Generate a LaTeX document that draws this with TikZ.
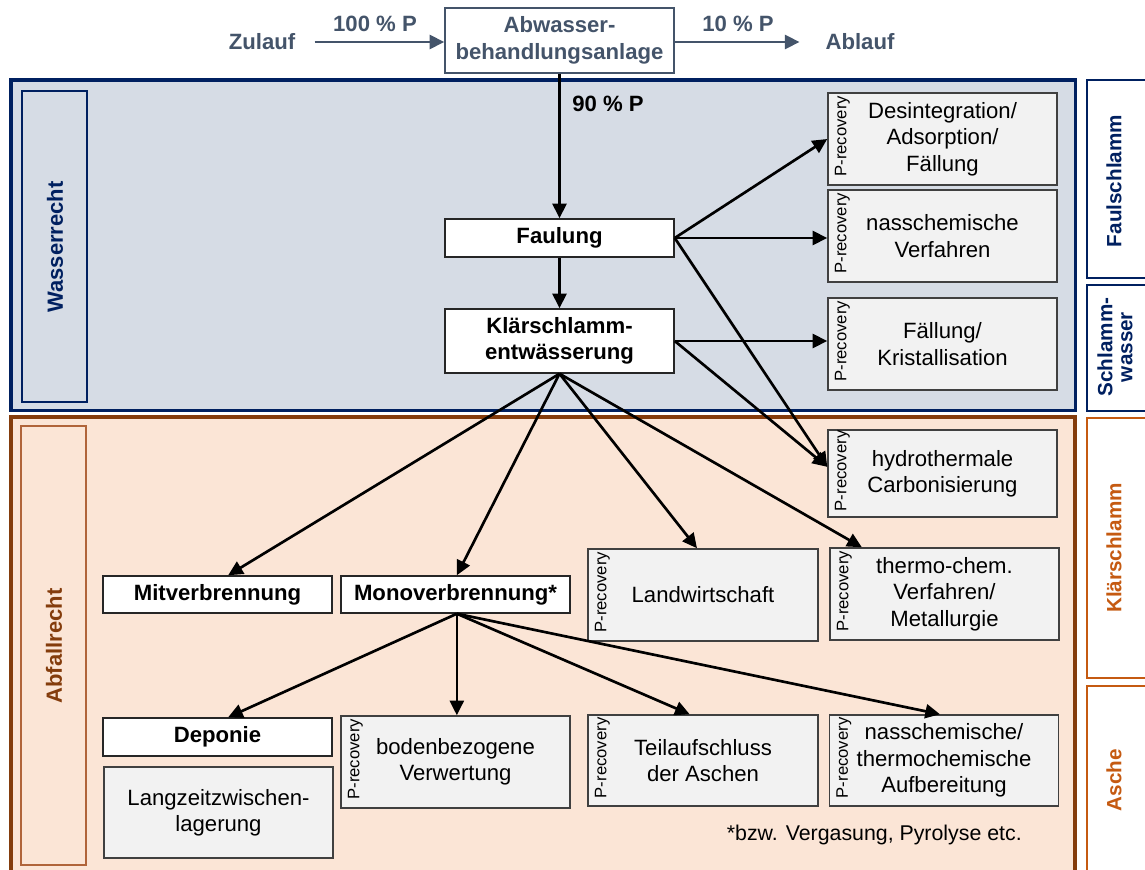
\documentclass[tikz,border=0pt]{standalone}
\usepackage{fontspec}
\setmainfont{Liberation Sans}
\usetikzlibrary{arrows.meta,calc}
\definecolor{navy}{HTML}{002060}
\definecolor{bluefill}{HTML}{D6DCE5}
\definecolor{orfill}{HTML}{FBE5D6}
\definecolor{brownb}{HTML}{843C0C}
\definecolor{brownl}{HTML}{B0643A}
\definecolor{orangeb}{HTML}{C55A11}
\definecolor{slate}{HTML}{44546A}
\definecolor{pgray}{HTML}{F2F2F2}
\newcommand{\plab}[1]{\node[plabel] at ([xshift=11.25pt,yshift=2pt]#1.west) {P-recovery};}
\begin{document}
\begin{tikzpicture}[x=0.75pt,y=-0.75pt,
 wbox/.style={draw=black!85, line width=1.1pt, fill=white, inner sep=0pt, font=\fontsize{16.6}{19.8}\selectfont\bfseries, align=center, minimum width=171.75pt},
 pbox/.style={draw=black!75, line width=1.1pt, fill=pgray, inner sep=0pt, font=\fontsize{16.6}{19.8}\selectfont, align=center, minimum width=171.75pt, minimum height=69pt},
 plabel/.style={rotate=90, font=\fontsize{12.5}{14}\selectfont, inner sep=0pt},
 arr/.style={draw=black, line width=2pt, -{Triangle[length=11pt,width=10.5pt]}},
 toparr/.style={draw=slate, line width=2pt, -{Triangle[length=11pt,width=10.5pt]}},
 toptext/.style={text=slate, font=\fontsize{16.6}{19.8}\selectfont\bfseries},
 sidelab/.style={rotate=90, font=\fontsize{15.5}{15}\selectfont\bfseries, align=center, inner sep=0pt},
 leftlab/.style={rotate=90, font=\fontsize{16.5}{18}\selectfont\bfseries, inner sep=0pt}
]
\useasboundingbox (0,0) rectangle (1145,870);
\clip (0,0) rectangle (1145,870);
\fill[white] (0,0) rectangle (1145,870);

% regions
\draw[navy, line width=2.6pt, fill=bluefill] (11,80) rectangle (1075.5,410.5);
\draw[brownb, line width=2.6pt, fill=orfill] (11,417) rectangle (1075,885);
\draw[navy, line width=0.9pt] (22,91) rectangle (87,402);
\draw[brownl, line width=1pt] (21,426) rectangle (86,865);
\node[leftlab, text=navy] (wr) at (55,247) {Wasserrecht};
\node[leftlab, text=brownb] (ar) at (54,646) {Abfallrecht};

% right side labels
\draw[navy, line width=1.1pt, fill=white] (1087,80) rectangle (1155,278);
\draw[navy, line width=1.1pt, fill=white] (1087,285) rectangle (1155,411);
\draw[orangeb, line width=1.1pt, fill=white] (1087,418) rectangle (1155,678);
\draw[orangeb, line width=1.1pt, fill=white] (1087,686) rectangle (1155,885);
\node[sidelab, text=navy] (fs) at (1114,181) {Faulschlamm};
\node[sidelab, text=navy] (sw) at (1115,347) {Schlamm-\\wasser};
\node[sidelab, text=orangeb] (ks) at (1114,548) {Klärschlamm};
\node[sidelab, text=orangeb] (as) at (1114,780) {Asche};

% top
\node[toptext] (zul) at (262,42) {Zulauf};
\node[draw=slate, line width=1.1pt, fill=white, toptext, align=center, minimum width=171.75pt, minimum height=48.75pt, inner sep=0pt] (abw) at (559.5,40.5) {Abwasser-\\behandlungsanlage};
\node[toptext] (abl) at (860,42) {Ablauf};
\draw[toparr, shorten <=11pt] (zul.east) -- (zul.east -| abw.west);
\draw[toparr, shorten >=16pt] (abw.east |- abl.west) -- (abl.west);
\node[toptext] (p100) at (375,24) {100 \% P};
\node[toptext] (p10) at (738,24) {10 \% P};

% main white boxes
\node[wbox, minimum height=28.5pt] (faul) at (559.5,238) {Faulung};
\node[wbox, minimum height=48pt] (klae) at (559.5,341) {Klärschlamm-\\entwässerung};
\node[wbox, minimum height=27.75pt] (mit) at (217.5,594.5) {Mitverbrennung};
\node[wbox, minimum height=27.75pt] (mono) at (455.5,594.5) {Monoverbrennung*};
\node[wbox, minimum height=28.5pt] (dep) at (217.5,737) {Deponie};
\node[font=\fontsize{16.6}{19.8}\selectfont\bfseries] (p90) at (608,104) {90 \% P};

% P-recovery boxes
\node[pbox] (des) at (942.5,139) {Desintegration/\\Adsorption/\\Fällung};
\node[pbox] (nas) at (942.5,236) {nasschemische\\Verfahren};
\node[pbox] (fae) at (942.5,344) {Fällung/\\Kristallisation};
\node[pbox, minimum height=65.25pt] (hyd) at (942.5,473.5) {hydrothermale\\Carbonisierung};
\node[pbox] (thc) at (944.5,594) {thermo-chem.\\Verfahren/\\Metallurgie};
\node[pbox, minimum width=172.5pt] (lw) at (703,595) {Landwirtschaft};
\node[pbox, minimum width=172.5pt, minimum height=68.25pt] (tei) at (703,760.5) {Teilaufschluss\\der Aschen};
\node[pbox, minimum height=68.25pt] (nth) at (944,760.5) {nasschemische/\\thermochemische\\Aufbereitung};
\node[pbox] (bod) at (455.5,762) {bodenbezogene\\Verwertung};
\node[pbox, minimum height=68.25pt] (lang) at (218.5,812.5) {Langzeitzwischen-\\lagerung};
\plab{des}\plab{nas}\plab{fae}\plab{hyd}\plab{thc}\plab{lw}\plab{tei}\plab{nth}\plab{bod}

\node[font=\fontsize{16}{18}\selectfont, anchor=east, inner sep=0pt] (fn) at (1022,835) {*bzw. Vergasung, Pyrolyse etc.};

% arrows
\draw[arr] (abw.south) -- (faul.north);
\draw[arr] (faul.south) -- (klae.north);
\draw[arr] (faul.east) -- (des.west);
\draw[arr] (faul.east) -- (nas.west |- faul.east);
\draw[arr] (faul.east) -- ([yshift=5pt]hyd.west);
\draw[arr] (klae.east) -- (fae.west |- klae.east);
\draw[arr] (klae.east) -- ([yshift=5pt]hyd.west);
\draw[arr] (klae.south) -- ([xshift=8pt]mit.north);
\draw[arr] (klae.south) -- ([xshift=1pt]mono.north);
\draw[arr] (klae.south) -- ([xshift=-4.5pt]lw.north);
\draw[arr] (klae.south) -- ([xshift=-62pt]thc.north);
\draw[arr] ([xshift=1pt]mono.south) -- ([xshift=8pt]dep.north);
\draw[arr] ([xshift=1pt]mono.south) -- ([xshift=1pt]bod.north);
\draw[arr] ([xshift=1pt]mono.south) -- ([xshift=-10pt]tei.north);
\draw[arr] ([xshift=1pt]mono.south) -- ([xshift=-3pt]nth.north);
\end{tikzpicture}
\end{document}
